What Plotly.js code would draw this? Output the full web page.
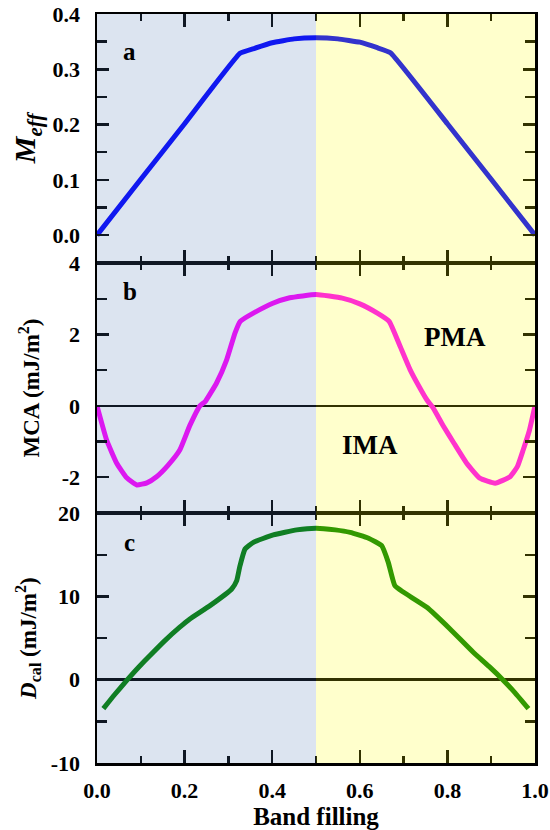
<!DOCTYPE html>
<html>
<head>
<meta charset="utf-8">
<script src="https://cdn.plot.ly/plotly-3.0.1.min.js"></script>
<style>html,body{margin:0;padding:0;background:#fff;}#chart{width:550px;height:830px;}</style>
</head>
<body>
<div id="chart"></div>
<script>
// Panel a: effective moment vs band filling
const fillA = [0, 0.1, 0.2, 0.3265, 0.36, 0.40, 0.45, 0.5, 0.55, 0.60, 0.64, 0.67, 0.8, 0.9, 1.0];
const meff  = [0, 0.101, 0.2015, 0.329, 0.338, 0.348, 0.355, 0.357, 0.355, 0.349, 0.339, 0.330, 0.2015, 0.101, 0.0];

// Panel b: MCA (mJ/m^2)
const fillB = [0, 0.022, 0.045, 0.068, 0.091, 0.114, 0.136, 0.162, 0.189, 0.212, 0.235, 0.247, 0.273, 0.296, 0.315, 0.327, 0.36, 0.40, 0.44, 0.5, 0.56, 0.60, 0.64, 0.667, 0.692, 0.715, 0.735, 0.753, 0.768, 0.79, 0.815, 0.844, 0.874, 0.909, 0.943, 0.96, 0.973, 0.987, 1.0];
const mca   = [0, -0.96, -1.61, -2.02, -2.22, -2.16, -1.99, -1.67, -1.24, -0.55, 0, 0.12, 0.64, 1.29, 2.04, 2.37, 2.62, 2.87, 3.03, 3.12, 3.02, 2.86, 2.6, 2.37, 1.67, 1.01, 0.55, 0.17, -0.07, -0.55, -1.05, -1.61, -2.03, -2.17, -1.99, -1.7, -1.24, -0.7, 0];

// Panel c: D_cal (mJ/m^2)
const fillC = [0.0145, 0.04, 0.068, 0.095, 0.121, 0.155, 0.189, 0.212, 0.258, 0.3075, 0.319, 0.3265, 0.338, 0.357, 0.4025, 0.456, 0.5, 0.544, 0.578, 0.62, 0.65, 0.665, 0.68, 0.70, 0.753, 0.806, 0.859, 0.895, 0.928, 0.955, 0.985];
const dcal  = [-3.47, -1.8, -0.08, 1.5, 2.91, 4.7, 6.31, 7.3, 8.9, 10.9, 11.9, 13.7, 15.7, 16.5, 17.4, 18.0, 18.2, 18.0, 17.7, 17.0, 16.1, 14.1, 11.3, 10.5, 8.7, 6.1, 3.3, 1.6, -0.08, -1.6, -3.47];

// Tick labels
const xTickVals = [0, 0.2, 0.4, 0.6, 0.8, 1.0];
const xTickText = ['0.0', '0.2', '0.4', '0.6', '0.8', '1.0'];
const yTickValsA = [0, 0.1, 0.2, 0.3, 0.4];
const yTickTextA = ['0.0', '0.1', '0.2', '0.3', '0.4'];
const yTickValsB = [-2, 0, 2, 4];
const yTickTextB = ['-2', '0', '2', '4'];
const yTickValsC = [-10, 0, 10, 20];
const yTickTextC = ['-10', '0', '10', '20'];
const panelLabels = ['a', 'b', 'c'];
const regionLabels = ['PMA', 'IMA'];

const FONT = 'Liberation Serif';

const traces = [
  {x: fillC, y: dcal, xaxis: 'x', yaxis: 'y', mode: 'lines', showlegend: false, line: {color: '#008000', width: 5, shape: 'spline', smoothing: 0.4}, hoverinfo: 'skip'},
  {x: fillB, y: mca, xaxis: 'x2', yaxis: 'y2', mode: 'lines', showlegend: false, line: {color: '#ff00ff', width: 5, shape: 'spline', smoothing: 0.4}, hoverinfo: 'skip'},
  {x: fillA, y: meff, xaxis: 'x3', yaxis: 'y3', mode: 'lines', showlegend: false, line: {color: '#0000ff', width: 5, shape: 'spline', smoothing: 0.3}, hoverinfo: 'skip'}
];

function xa(anchor, showLabels) {
  return {
    anchor: anchor, range: [0, 1],
    tickmode: 'array', tickvals: xTickVals, ticktext: xTickText,
    showticklabels: showLabels,
    ticks: 'inside', ticklen: 13, tickwidth: 2.5, tickcolor: '#000',
    minor: {dtick: 0.1, ticks: 'inside', ticklen: 7, tickwidth: 2.5, tickcolor: '#000'},
    showline: true, linewidth: 2.5, linecolor: '#000', mirror: 'ticks',
    showgrid: false, zeroline: false,
    tickfont: {family: FONT, size: 22, weight: 'bold', color: '#000'},
    ticklabelstandoff: 6
  };
}
function ya(anchor, dom, range, vals, text, minorStep, zl) {
  return {
    anchor: anchor, domain: dom, range: range,
    tickmode: 'array', tickvals: vals, ticktext: text,
    ticks: 'inside', ticklen: 12, tickwidth: 2.5, tickcolor: '#000',
    minor: {dtick: minorStep, tick0: 0, ticks: 'inside', ticklen: 10, tickwidth: 2.5, tickcolor: '#000'},
    showline: true, linewidth: 2.5, linecolor: '#000', mirror: 'ticks',
    showgrid: false, zeroline: zl, zerolinecolor: '#000', zerolinewidth: 2.5,
    tickfont: {family: FONT, size: 22, weight: 'bold', color: '#000'},
    ticklabelstandoff: 10
  };
}

// tiny gaps between panel domains (hidden under the axis lines)
const dC = [0, 0.3335], dB = [0.3341, 0.6673], dA = [0.6679, 1];

const xax = xa('y', true);
xax.title = {text: 'Band filling', font: {family: FONT, size: 25, weight: 'bold', color: '#000'}, standoff: 6};
const yC = ya('x', dC, [-10, 20], yTickValsC, yTickTextC, 5, true);
yC.title = {text: '<i>D</i><sub>cal</sub> (mJ/m<sup>2</sup>)', font: {family: FONT, size: 23, weight: 'bold', color: '#000'}, standoff: 8};
const yB = ya('x2', dB, [-3, 4], yTickValsB, yTickTextB, 1, true);
yB.title = {text: 'MCA (mJ/m<sup>2</sup>)', font: {family: FONT, size: 23, weight: 'bold', color: '#000'}, standoff: 16};
const yA = ya('x3', dA, [-0.05, 0.4], yTickValsA, yTickTextA, 0.05, false);
yA.title = {text: '<i>M<sub>eff</sub></i>', font: {family: FONT, size: 30, weight: 'bold', color: '#000'}, standoff: 8};

function ann(xref, yref, x, y, text, size) {
  return {xref: xref, yref: yref, x: x, y: y, text: '<b>' + text + '</b>', showarrow: false,
          font: {family: FONT, size: size, color: '#000'}};
}

const layout = {
  width: 550, height: 830,
  margin: {l: 97, r: 15, t: 14, b: 67},
  xaxis: xax, xaxis2: xa('y2', false), xaxis3: xa('y3', false),
  yaxis: yC, yaxis2: yB, yaxis3: yA,
  shapes: [
    {type: 'rect', xref: 'x', yref: 'paper', x0: 0, x1: 0.5, y0: 0, y1: 1, layer: 'above', fillcolor: 'rgb(80,120,180)', opacity: 0.2, line: {width: 0}},
    {type: 'rect', xref: 'x', yref: 'paper', x0: 0.5, x1: 1, y0: 0, y1: 1, layer: 'above', fillcolor: 'rgb(255,255,0)', opacity: 0.2, line: {width: 0}}
  ],
  annotations: [
    ann('x3', 'y3', 0.075, 0.332, panelLabels[0], 25),
    ann('x2', 'y2', 0.075, 3.2, panelLabels[1], 25),
    ann('x', 'y', 0.075, 16.5, panelLabels[2], 25),
    ann('x2', 'y2', 0.818, 1.94, regionLabels[0], 27),
    ann('x2', 'y2', 0.623, -1.1, regionLabels[1], 27)
  ]
};

// Make sure the tick marks Plotly generated are displayed and sit on top of their subplot.
function revealTicks() {
  const root = document.getElementById('chart');
  root.querySelectorAll('path.ticks').forEach(function (p) {
    p.style.display = 'inline';
    p.style.visibility = 'visible';
    p.style.opacity = '1';
  });
  root.querySelectorAll('g.xaxislayer-above, g.yaxislayer-above').forEach(function (g) {
    g.style.display = 'inline';
    g.style.visibility = 'visible';
    g.style.opacity = '1';
  });
}

Plotly.newPlot('chart', traces, layout, {staticPlot: true, displayModeBar: false}).then(function (gd) {
  revealTicks();
  gd.on('plotly_afterplot', revealTicks);
  setTimeout(revealTicks, 50);
});
</script>
</body>
</html>
